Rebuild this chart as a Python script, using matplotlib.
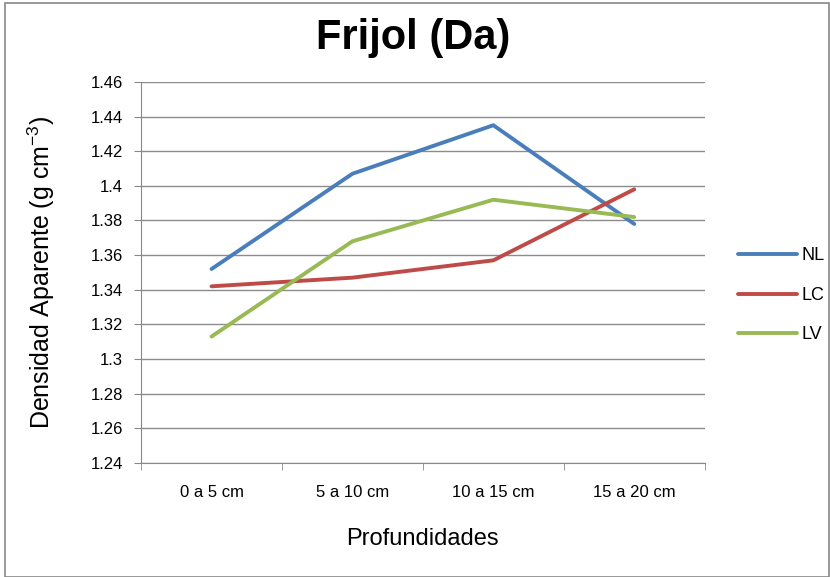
import matplotlib
matplotlib.use("Agg")
from matplotlib import pyplot as plt
from matplotlib.patches import Rectangle
import numpy as np

categories = ["0 a 5 cm", "5 a 10 cm", "10 a 15 cm", "15 a 20 cm"]
nl = [1.352, 1.407, 1.435, 1.378]
lc = [1.342, 1.347, 1.357, 1.398]
lv = [1.313, 1.368, 1.392, 1.382]
series_names = ["NL", "LC", "LV"]
y_ticks = [1.24, 1.26, 1.28, 1.30, 1.32, 1.34, 1.36, 1.38, 1.40, 1.42, 1.44, 1.46]
y_tick_labels = ["1.24", "1.26", "1.28", "1.3", "1.32", "1.34", "1.36", "1.38", "1.4", "1.42", "1.44", "1.46"]

plt.rcParams['font.family'] = ['Liberation Sans', 'DejaVu Sans']
plt.rcParams['mathtext.fontset'] = 'custom'
plt.rcParams['mathtext.rm'] = 'Liberation Sans'

fig = plt.figure(figsize=(8.3, 5.77), dpi=100)
# outer chart border
fig.patches.append(Rectangle((0.006, 0.0), 0.993, 0.995, transform=fig.transFigure,
                             fill=False, edgecolor='#888888', linewidth=1.2))

ax = fig.add_axes([0.170, 0.1976, 0.679, 0.6604])
x = np.arange(len(categories))
colors = ['#4a7ebb', '#be4b48', '#98b954']
for vals, name, c in zip([nl, lc, lv], series_names, colors):
    ax.plot(x, vals, color=c, linewidth=2.8, label=name, solid_capstyle='round')

ax.set_xlim(-0.5, 3.5)
ax.set_ylim(1.24, 1.46)
ax.set_yticks(y_ticks)
ax.set_yticklabels(y_tick_labels, fontsize=12)
ax.set_xticks(x)
ax.set_xticklabels(categories, fontsize=12)
ax.set_xticks(np.arange(-0.5, 4.0, 1.0), minor=True)
ax.tick_params(axis='x', which='major', length=0, pad=16)
ax.tick_params(axis='x', which='minor', length=5, color='#888888')
ax.tick_params(axis='y', length=5, color='#888888', pad=8)
ax.yaxis.grid(True, color='#8c8c8c', linewidth=1.0)
ax.set_axisbelow(True)
for s in ['top', 'right']:
    ax.spines[s].set_visible(False)
for s in ['left', 'bottom']:
    ax.spines[s].set_color('#888888')

ax.set_xlabel("Profundidades", fontsize=17, labelpad=20)
ax.set_ylabel("Densidad Aparente (g cm$^{\\mathrm{-3}}$)", fontsize=18, labelpad=24)
fig.text(0.498, 0.935, "Frijol (Da)", ha='center', va='center', fontsize=30,
         fontweight='bold')

ax.legend(loc='center left', bbox_to_anchor=(1.03, 0.44), frameon=False, fontsize=13,
          handlelength=3.3, handletextpad=0.2, labelspacing=1.25)

fig.savefig("out.png", dpi=100)
